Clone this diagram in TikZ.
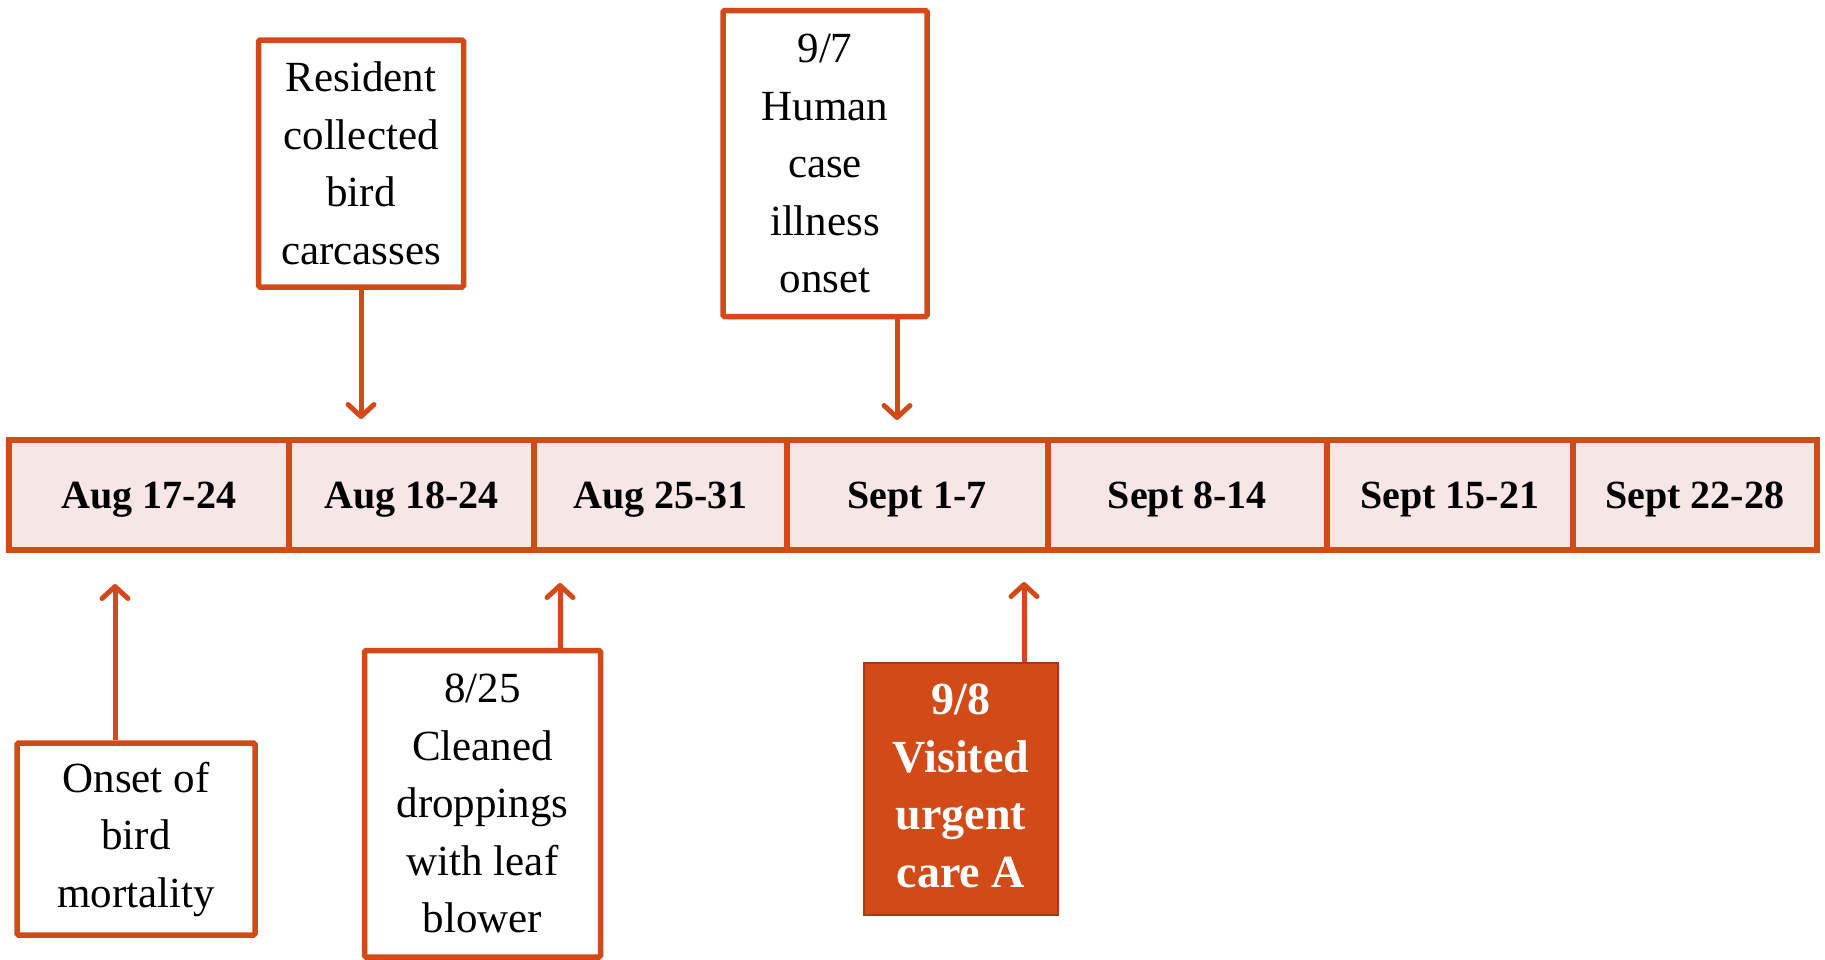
\documentclass[tikz,border=0pt]{standalone}
\usepackage{fontspec}
\setmainfont{Liberation Serif}
\usetikzlibrary{arrows.meta}

\definecolor{rust}{HTML}{D24A18}
\definecolor{rustdark}{HTML}{A83A12}
\definecolor{cellpink}{HTML}{F6E7E6}

\tikzset{
  cell/.style={draw=rust, line width=6pt, fill=cellpink, inner sep=0pt,
    minimum height=109.5pt, text height=26.5pt, text depth=0pt,
    font=\fontsize{40}{48}\selectfont\bfseries},
  eventbox/.style={draw=rust, line width=5.5pt, fill=white, rounded corners=1.5pt,
    inner sep=0pt, align=center, font=\fontsize{43}{57.5}\selectfont},
  keybox/.style={draw=rustdark, line width=2pt, fill=rust, text=white,
    inner sep=0pt, align=center, font=\fontsize{46}{57.5}\selectfont\bfseries},
  pointer/.style={draw=rust, line width=5pt,
    -{Straight Barb[length=12pt,width=26pt,round]}}
}

\begin{document}
\begin{tikzpicture}[x=1pt,y=-1pt]
  \useasboundingbox (0,0) rectangle (1825,959);

  % timeline cells
  \node[cell, minimum width=279.7pt] (w1) at (148.85,494.75) {Aug 17-24};
  \node[cell, minimum width=245.5pt] (w2) at (411.45,494.75) {Aug 18-24};
  \node[cell, minimum width=252.6pt] (w3) at (660.5,494.75) {Aug 25-31};
  \node[cell, minimum width=260.7pt] (w4) at (917.15,494.75) {Sept 1-7};
  \node[cell, minimum width=279.4pt] (w5) at (1187.2,494.75) {Sept 8-14};
  \node[cell, minimum width=245.6pt] (w6) at (1449.7,494.75) {Sept 15-21};
  \node[cell, minimum width=244.5pt] (w7) at (1694.75,494.75) {Sept 22-28};

  % events above the timeline
  \node[eventbox, minimum width=205pt, minimum height=247pt] (b1) at (361,163.5)
    {Resident\\collected\\bird\\carcasses};
  \node[eventbox, minimum width=204pt, minimum height=306pt] (b2) at (825,163.5)
    {9/7\\Human\\case\\illness\\onset};

  % events below the timeline
  \node[eventbox, minimum width=238pt, minimum height=192pt] (b3) at (136,839)
    {Onset of\\bird\\mortality};
  \node[eventbox, minimum width=236pt, minimum height=306.5pt] (b4) at (482.5,803.75)
    {8/25\\Cleaned\\droppings\\with leaf\\blower};
  \node[keybox, minimum width=194pt, minimum height=252pt] (b5) at (961,789)
    {9/8\\Visited\\urgent\\care A\rule[-7pt]{0pt}{7pt}};

  % arrow end points next to the timeline
  \coordinate (t1) at (361,419);
  \coordinate (t2) at (897,420);
  \coordinate (t3) at (115,584);
  \coordinate (t4) at (560,583);
  \coordinate (t5) at (1024,582);

  \draw[pointer] (b1.south) -- (t1);
  \draw[pointer] (b2.south -| t2) -- (t2);
  \draw[pointer] (b3.north -| t3) -- (t3);
  \draw[pointer] (b4.north -| t4) -- (t4);
  \draw[pointer] (b5.north -| t5) -- (t5);
\end{tikzpicture}
\end{document}
